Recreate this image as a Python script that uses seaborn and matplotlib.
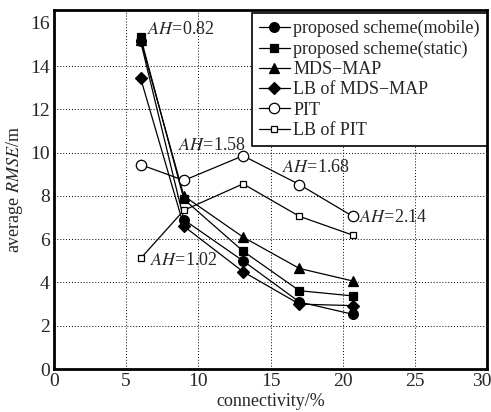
import matplotlib
matplotlib.use("Agg")
import matplotlib.pyplot as plt
import matplotlib.transforms as mtransforms
import seaborn as sns

# values
connectivity = [6.0, 9.0, 13.1, 17.0, 20.7]
mobile = [15.15, 6.9, 5.0, 3.1, 2.53]
static = [15.35, 7.85, 5.45, 3.62, 3.38]
mds_map = [15.2, 8.0, 6.1, 4.65, 4.07]
lb_mds_map = [13.45, 6.6, 4.5, 3.0, 2.93]
pit = [9.45, 8.72, 9.86, 8.53, 7.06]
lb_pit = [5.11, 7.34, 8.56, 7.06, 6.19]

labels = [
    "proposed scheme(mobile)",
    "proposed scheme(static)",
    "MDS\u2212MAP",
    "LB of MDS\u2212MAP",
    "PIT",
    "LB of PIT",
]

# AH annotations: (text, x, y)
ah_notes = [
    ("0.82", 6.42, 15.7),
    ("1.58", 8.6, 10.33),
    ("1.68", 15.78, 9.3),
    ("2.14", 21.1, 7.0),
    ("1.02", 6.65, 5.0),
]

xticks = [0, 5, 10, 15, 20, 25, 30]
yticks = [0, 2, 4, 6, 8, 10, 12, 14, 16]

sns.set_style("white")
plt.rcParams["font.family"] = ["Liberation Serif", "DejaVu Serif"]
plt.rcParams["mathtext.fontset"] = "stix"

fig = plt.figure(figsize=(4.91, 4.12), dpi=100)
ax = fig.add_axes([54 / 491, 1 - 369 / 412, 433 / 491, 359 / 412])

# marker style per series
styles = [
    dict(marker="o", ms=7, mfc="black"),
    dict(marker="s", ms=6, mfc="black"),
    dict(marker="^", ms=7.5, mfc="black"),
    dict(marker="D", ms=6, mfc="black"),
    dict(marker="o", ms=7.5, mfc="white"),
    dict(marker="s", ms=5, mfc="white"),
]
series = [mobile, static, mds_map, lb_mds_map, pit, lb_pit]

for vals, lab, st in zip(series, labels, styles):
    sns.lineplot(
        x=connectivity,
        y=vals,
        ax=ax,
        color="black",
        lw=0.9,
        label=lab,
        mec="black",
        mew=0.9,
        **st
    )

for txt, x, y in ah_notes:
    ax.text(x, y, "$AH$=" + txt, fontsize=13, ha="left", va="center")

ax.set_xlim(0, 30)
ax.set_ylim(0, 16.6)
ax.set_xticks(xticks)
ax.set_yticks(yticks)
ax.tick_params(labelsize=14, direction="in", length=0, pad=3)

# nudge the last x label so it stays inside the figure
last = ax.get_xticklabels()[-1]
last.set_transform(last.get_transform() + mtransforms.ScaledTranslation(-5 / 100, 0, fig.dpi_scale_trans))

ax.grid(True, color="black", linestyle=(0, (1, 2)), lw=0.7)
# no grid line at the top tick
ax.yaxis.get_gridlines()[-1].set_visible(False)

for sp in ax.spines.values():
    sp.set_color("black")
    sp.set_linewidth(2)

ax.set_xlabel("connectivity/%", fontsize=13, labelpad=2)
ax.set_ylabel("average $RMSE$/m", fontsize=13, labelpad=4)

leg = ax.legend(
    loc="upper right",
    bbox_to_anchor=(1.0, 0.992),
    borderaxespad=0,
    fontsize=13,
    frameon=True,
    fancybox=False,
    framealpha=1,
    edgecolor="black",
    handlelength=1.7,
    handletextpad=0.2,
    labelspacing=0.18,
    borderpad=0.4,
)
leg.get_frame().set_linewidth(1.2)

fig.savefig("out.png", dpi=100)
